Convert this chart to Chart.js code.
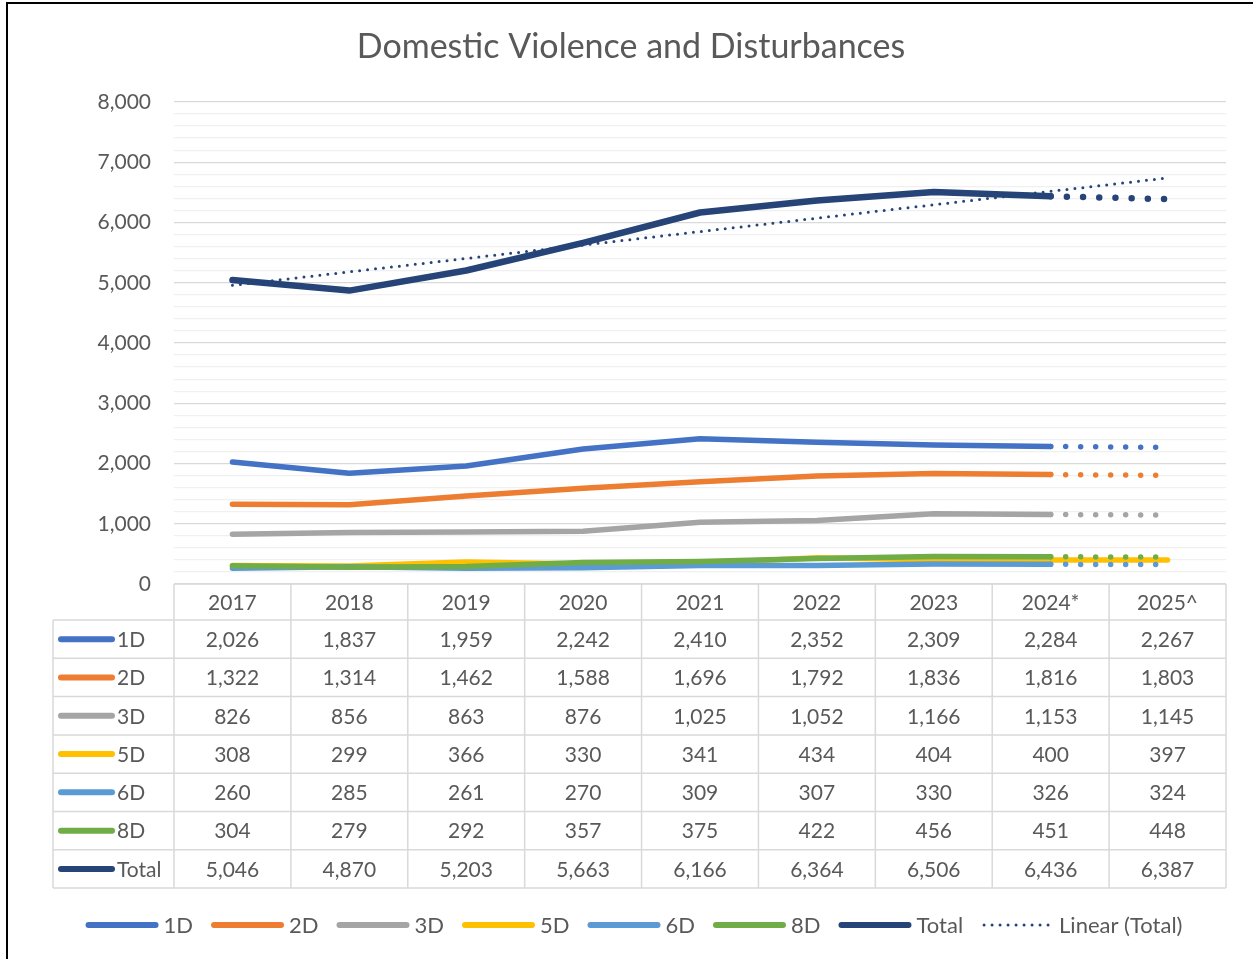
<!DOCTYPE html>
<html>
<head>
<meta charset="utf-8">
<script src="https://cdn.jsdelivr.net/npm/chart.js@4.4.1/dist/chart.umd.min.js"></script>
<style>
  html, body { margin: 0; padding: 0; background: #fff; overflow: hidden; }
  #frame { position: absolute; left: 6px; top: 2px; width: 1270px; height: 980px; border: 2px solid #000; }
  #chart { position: absolute; left: 0; top: 0; }
</style>
</head>
<body>
<div id="frame"></div>
<canvas id="chart" width="1253" height="959"></canvas>
<script>
const years = ['2017', '2018', '2019', '2020', '2021', '2022', '2023', '2024*', '2025^'];
const d1 = [2026, 1837, 1959, 2242, 2410, 2352, 2309, 2284, 2267];
const d2 = [1322, 1314, 1462, 1588, 1696, 1792, 1836, 1816, 1803];
const d3 = [826, 856, 863, 876, 1025, 1052, 1166, 1153, 1145];
const d5 = [308, 299, 366, 330, 341, 434, 404, 400, 397];
const d6 = [260, 285, 261, 270, 309, 307, 330, 326, 324];
const d8 = [304, 279, 292, 357, 375, 422, 456, 451, 448];
const total = [5046, 4870, 5203, 5663, 6166, 6364, 6506, 6436, 6387];

const chartTitle = 'Domestic Violence and Disturbances';
const textColor = '#595959';
const fontFamily = 'Lato, "Noto Sans", sans-serif';

// least-squares line through the Total series
function linearFit(ys) {
  const n = ys.length;
  const mx = (n - 1) / 2;
  const my = ys.reduce((a, b) => a + b, 0) / n;
  let sxy = 0, sxx = 0;
  ys.forEach((y, i) => { sxy += (i - mx) * (y - my); sxx += (i - mx) * (i - mx); });
  const slope = sxy / sxx;
  return ys.map((_, i) => my + slope * (i - mx));
}
const trend = linearFit(total);

// last year is a projection, drawn dotted
const projected = (gap) => ({
  borderDash: c => c.p1DataIndex === years.length - 1 ? [0, gap] : undefined
});

function series(label, data, color, width, order, dotted) {
  return {
    label, data,
    borderColor: color,
    backgroundColor: color,
    borderWidth: width,
    borderCapStyle: 'round',
    borderJoinStyle: 'round',
    pointRadius: 0,
    tension: 0,
    order,
    segment: dotted ? projected(dotted) : undefined
  };
}

const datasets = [
  series('1D', d1, '#4472C4', 5.5, 8, 15),
  series('2D', d2, '#ED7D31', 5.5, 7, 15),
  series('3D', d3, '#A5A5A5', 5.5, 6, 15),
  series('5D', d5, '#FFC000', 5.5, 5, 0),
  series('6D', d6, '#5B9BD5', 5.5, 4, 15),
  series('8D', d8, '#70AD47', 5.5, 3, 15),
  series('Total', total, '#264478', 6.5, 2, 16.2),
  {
    label: 'Linear (Total)',
    data: trend,
    borderColor: '#264478',
    borderWidth: 3,
    borderDash: [0, 8],
    borderCapStyle: 'round',
    pointRadius: 0,
    order: 1
  }
];

function swatch(ctx, x1, x2, y, ds, w) {
  ctx.save();
  ctx.strokeStyle = ds.borderColor;
  ctx.lineCap = 'round';
  ctx.lineWidth = w || ds.borderWidth;
  ctx.setLineDash(ds.borderDash || []);
  ctx.beginPath();
  ctx.moveTo(x1, y);
  ctx.lineTo(x2, y);
  ctx.stroke();
  ctx.restore();
}

// title sits centred over the whole frame, not just the plot
const titlePlugin = {
  id: 'frameTitle',
  afterDraw(chart) {
    const ctx = chart.ctx;
    ctx.save();
    ctx.font = '34px ' + fontFamily;
    ctx.fillStyle = textColor;
    ctx.textAlign = 'center';
    ctx.textBaseline = 'middle';
    ctx.fillText(chartTitle, 631, 47);
    ctx.restore();
  }
};

// data table under the plot, aligned with the category columns
const dataTable = {
  id: 'dataTable',
  afterDraw(chart) {
    const ctx = chart.ctx;
    const xs = chart.scales.x;
    const area = chart.chartArea;
    const colW = (area.right - area.left) / years.length;
    const headH = 36, rowH = 38.3, labelLeft = 53;
    const rows = datasets.slice(0, 7);
    const top = area.bottom;
    const bodyTop = top + headH;
    const bottom = bodyTop + rowH * rows.length;

    ctx.save();
    ctx.strokeStyle = '#d9d9d9';
    ctx.lineWidth = 1.5;
    ctx.beginPath();
    ctx.moveTo(area.left, top); ctx.lineTo(area.right, top);
    for (let r = 0; r <= rows.length; r++) {
      const y = bodyTop + r * rowH;
      ctx.moveTo(labelLeft, y); ctx.lineTo(area.right, y);
    }
    for (let c = 0; c <= years.length; c++) {
      const x = area.left + c * colW;
      ctx.moveTo(x, top); ctx.lineTo(x, bottom);
    }
    ctx.moveTo(labelLeft, bodyTop); ctx.lineTo(labelLeft, bottom);
    ctx.stroke();

    ctx.fillStyle = textColor;
    ctx.font = '21px ' + fontFamily;
    ctx.textAlign = 'center';
    ctx.textBaseline = 'middle';
    years.forEach((yr, i) => ctx.fillText(yr, xs.getPixelForValue(i), top + headH / 2 + 1));
    rows.forEach((ds, r) => {
      const y = bodyTop + r * rowH + rowH / 2 + 1;
      ds.data.forEach((v, i) => ctx.fillText(v.toLocaleString('en-US'), xs.getPixelForValue(i), y));
      swatch(ctx, 61, 112, y - 1, ds, 6);
      ctx.textAlign = 'left';
      ctx.fillText(ds.label, 117, y);
      ctx.textAlign = 'center';
    });
    ctx.restore();
  }
};

// legend row along the bottom
const bottomLegend = {
  id: 'bottomLegend',
  afterDraw(chart) {
    const ctx = chart.ctx;
    const y = 925, lineLen = 73, gap = 5, itemGap = 18, center = 634;
    ctx.save();
    ctx.font = '22px ' + fontFamily;
    const widths = datasets.map(ds => ctx.measureText(ds.label).width);
    const full = widths.reduce((a, w) => a + lineLen + gap + w, 0) + itemGap * (datasets.length - 1);
    let x = center - full / 2;
    ctx.fillStyle = textColor;
    ctx.textBaseline = 'middle';
    datasets.forEach((ds, i) => {
      const isTrend = i === datasets.length - 1;
      swatch(ctx, x + 3, x + lineLen - 3, y, ds, isTrend ? 3 : 6);
      x += lineLen + gap;
      ctx.fillText(ds.label, x, y + 1);
      x += widths[i] + itemGap;
    });
    ctx.restore();
  }
};

Chart.defaults.font.family = fontFamily;
Chart.defaults.color = textColor;

new Chart(document.getElementById('chart'), {
  type: 'line',
  data: { labels: years, datasets },
  options: {
    responsive: false,
    animation: false,
    layout: { padding: { left: 0, right: 27, top: 102, bottom: 375 } },
    plugins: {
      legend: { display: false },
      tooltip: { enabled: false },
      title: { display: false }
    },
    scales: {
      x: { display: false, offset: true },
      y: {
        min: 0,
        max: 8000,
        afterFit: s => { s.width = 174; },
        border: { display: false },
        grid: {
          drawTicks: false,
          lineWidth: 1.3,
          color: c => c.tick && c.tick.value % 1000 === 0 ? '#d9d9d9' : '#f0f0f0'
        },
        ticks: {
          stepSize: 200,
          autoSkip: false,
          padding: 23,
          color: textColor,
          font: { size: 21 },
          callback: v => v % 1000 === 0 ? v.toLocaleString('en-US') : ''
        }
      }
    }
  },
  plugins: [titlePlugin, dataTable, bottomLegend]
});
</script>
</body>
</html>
